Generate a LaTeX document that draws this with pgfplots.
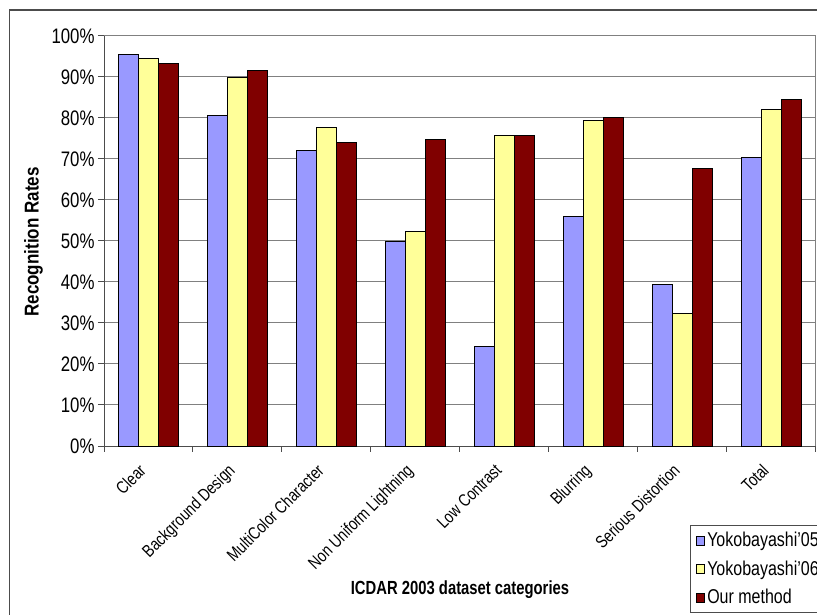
\documentclass[border=0pt]{standalone}
\usepackage{pgfplots}
\pgfplotsset{compat=1.18}
\usepackage{fontspec}
\setmainfont{Liberation Sans}[FakeStretch=0.8]
\newfontfamily\fX{Liberation Sans}[FakeStretch=0.78]
\newfontfamily\fY{Liberation Sans}[FakeStretch=0.85]
\definecolor{cA}{HTML}{9999FF}
\definecolor{cB}{HTML}{FFFF99}
\definecolor{cC}{HTML}{800000}
\newcommand\fs[1]{\fontsize{#1}{#1}\selectfont}
\pgfplotsset{
  sqlegend/.style={legend image code/.code={\draw[##1,draw=black,line width=0.8bp] (0bp,-4.5bp) rectangle (8bp,4.5bp);}},
  mybar/.style={ybar, bar width=0.2222, draw=black, line width=0.8bp, sqlegend},
}
\begin{document}
\begin{tikzpicture}
\path[use as bounding box] (0,0) rectangle (817bp,615bp);
\clip (0,0) rectangle (817bp,615bp);
\draw[black!70, line width=1.2bp] (9.5bp,-5bp) -- (9.5bp,605bp) -- (830bp,605bp);
\begin{axis}[
 at={(104bp,169bp)}, anchor=south west,
 scale only axis, width=712bp, height=410bp,
 xmin=0, xmax=8, ymin=0, ymax=100,
 axis x line*=bottom, axis y line*=left,
 axis line style={draw=black!70, line width=1bp, -},
 tick align=outside,
 major tick length=6bp,
 tick style={draw=black!70, line width=1bp},
 ytick={0,10,...,100},
 yticklabel={\pgfmathprintnumber{\tick}\%},
 /pgf/number format/assume math mode=true,
 yticklabel style={font=\fs{21bp}},
 ymajorgrids, major grid style={draw=gray, line width=1bp},
 xtick={0,...,8},
 xticklabels={Clear,Background Design,MultiColor Character,Non Uniform Lightning,Low Contrast,Blurring,Serious Distortion,Total},
 x tick label as interval,
 xticklabel style={rotate=45, anchor=north east, font=\fs{17.5bp}, inner sep=0pt, xshift=-15bp},
 legend style={at={(rel axis cs:0.823,-0.1927)}, anchor=north west, draw=black!70, line width=1bp, font=\fs{20bp}, row sep=8.5bp, inner xsep=6bp, inner ysep=5bp, cells={anchor=west}},
 clip=false,
]
\addplot[mybar, fill=cA, bar shift=-0.2222] coordinates {(0.5,95.4) (1.5,80.6) (2.5,72.0) (3.5,49.8) (4.5,24.2) (5.5,55.9) (6.5,39.4) (7.5,70.4)};
\addplot[mybar, fill=cB, bar shift=0] coordinates {(0.5,94.5) (1.5,89.9) (2.5,77.6) (3.5,52.4) (4.5,75.8) (5.5,79.4) (6.5,32.4) (7.5,82.0)};
\addplot[mybar, fill=cC, bar shift=0.2222] coordinates {(0.5,93.3) (1.5,91.5) (2.5,74.1) (3.5,74.8) (4.5,75.8) (5.5,80.1) (6.5,67.7) (7.5,84.6)};
\legend{Yokobayashi'05,Yokobayashi'06,Our method}
\draw[gray, line width=1bp] (rel axis cs:1,0) -- (rel axis cs:1,1);
\end{axis}
\node[rotate=90, font=\fY\bfseries\fs{20bp}] at (33.5bp,373bp) {Recognition Rates};
\node[font=\fX\bfseries\fs{19bp}] at (460bp,25bp) {ICDAR 2003 dataset categories};
\end{tikzpicture}
\end{document}
